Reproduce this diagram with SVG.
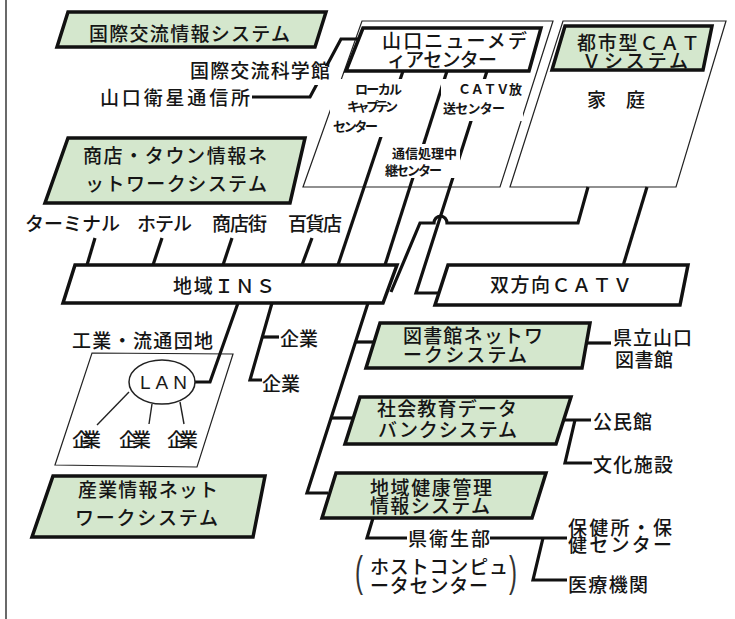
<svg xmlns="http://www.w3.org/2000/svg" width="735" height="619" viewBox="0 0 735 619">
<style>
.box{stroke:#111;stroke-width:3.5;stroke-linejoin:miter}
.g{fill:#d4e7cd}
.w{fill:#fff}
.panel{fill:#fff;stroke:#222;stroke-width:1.2}
.c{fill:none;stroke:#111;stroke-width:3.2;stroke-linejoin:miter}
.thin{fill:none;stroke:#222;stroke-width:1.4}
.t{font-family:"Noto Sans CJK JP","Noto Sans",sans-serif;fill:#151515;font-size:19px;font-weight:500}
.s{font-size:13px;font-weight:bold}
.ko{fill:#fff}
.par{font-family:"Liberation Sans",sans-serif;fill:#333;font-size:24px}
</style>
<rect x="0" y="0" width="735" height="619" fill="#fff"/>
<line x1="6" y1="0" x2="6" y2="619" stroke="#444" stroke-width="1.6"/>

<g id="panels">
  <polygon class="panel" points="362,21 553,21 500,187 303,187"/>
  <polygon class="panel" points="563,21 726,21 676,187 510,187"/>
  <polygon class="panel" points="92,353 233,354 197,467 55,465" fill="none"/>
</g>

<g id="connectors">
  <path class="c" d="M252,97 H310 L341,39 H359"/>
  <path class="c" d="M403,71 L338,265"/>
  <path class="c" d="M447,71 L385,265"/>
  <path class="c" d="M487,71 L416,293 H440"/>
  <path class="c" d="M588,187 L578,223 H447 A6.5,7 0 0 0 434,223 H420 L391,292"/>
  <path class="c" d="M647,187 L623,266"/>
  <path class="c" d="M95,238 L87,265"/>
  <path class="c" d="M162,238 L153,265"/>
  <path class="c" d="M232,238 L223,265"/>
  <path class="c" d="M312,238 L302,265"/>
  <path class="c" d="M238,303 L210,382 H194"/>
  <path class="c" d="M272,303 L250,380 H262"/>
  <path class="c" d="M262,337 H279"/>
  <path class="c" d="M368,303 L307,493 H328"/>
  <path class="c" d="M356,342 H377"/>
  <path class="c" d="M331,418 H354"/>
  <path class="c" d="M583,343 H611"/>
  <path class="c" d="M552,420 H591"/>
  <path class="c" d="M575,420 L565,463 H592"/>
  <path class="c" d="M373,518 L367,538 H407"/>
  <path class="c" d="M490,538 H567"/>
  <path class="c" d="M543,538 L533,580 H567"/>
  <path class="thin" d="M129,392 L97,425"/>
  <path class="thin" d="M152,404 L149,424"/>
  <path class="thin" d="M180,402 L184,424"/>
</g>

<g id="knockouts">
  <rect class="ko" x="330" y="79" width="75" height="58"/>
  <rect class="ko" x="441" y="79" width="82" height="42"/>
  <rect class="ko" x="384" y="144" width="76" height="34"/>
  <rect class="ko" x="186" y="66" width="147" height="19"/>
</g>

<g id="kokusai-system">
  <polygon class="box g" points="68,12 326,12 315,47 57,47"/>
  <text class="t" x="89" y="41" font-size="20" textLength="201">国際交流情報システム</text>
</g>
<g id="kagakukan">
  <text class="t" x="190" y="78" font-size="20" textLength="140">国際交流科学館</text>
</g>
<g id="eisei">
  <text class="t" x="100" y="105" font-size="20" textLength="150">山口衛星通信所</text>
</g>
<g id="media-center">
  <polygon class="box w" points="363,28 541,28 529,71 346,71"/>
  <text class="t" x="382" y="48" font-size="17" textLength="145">山口ニューメデ</text>
  <text class="t" x="387" y="66.5" font-size="17" textLength="110">ィアセンター</text>
</g>
<g id="local-captain">
  <text class="t s" x="355" y="94" textLength="47">ローカル</text>
  <text class="t s" x="347" y="111" textLength="51">キャプテン</text>
  <text class="t s" x="333" y="131" textLength="45">センター</text>
</g>
<g id="catv-hoso">
  <text class="t s" x="458" y="94" textLength="64">ＣＡＴＶ放</text>
  <text class="t s" x="443" y="112.5" textLength="62">送センター</text>
</g>
<g id="tsushin">
  <text class="t s" x="392" y="157.5" textLength="65">通信処理中</text>
  <text class="t s" x="385" y="175" textLength="57">継センター</text>
</g>
<g id="toshi-catv">
  <polygon class="box g" points="565,26 712,26 703,70 552,70"/>
  <text class="t" x="577" y="49.5" font-size="17" textLength="123">都市型ＣＡＴ</text>
  <text class="t" x="582" y="67.5" font-size="17" textLength="106">Ｖシステム</text>
</g>
<g id="katei">
  <text class="t" x="587" y="107" font-size="18" textLength="58">家　庭</text>
</g>
<g id="shoten-system">
  <polygon class="box g" points="68,138 305,138 290,203 45,203"/>
  <text class="t" x="83" y="163" font-size="20" textLength="184">商店・タウン情報ネ</text>
  <text class="t" x="85" y="191" font-size="20" textLength="182">ットワークシステム</text>
</g>
<g id="terminals">
  <text class="t" x="25" y="231" textLength="95">ターミナル</text>
  <text class="t" x="137" y="231" textLength="55">ホテル</text>
  <text class="t" x="212" y="231" textLength="55">商店街</text>
  <text class="t" x="288" y="231" textLength="54">百貨店</text>
</g>
<g id="ins">
  <polygon class="box w" points="75,265 397,265 383,303 63,303"/>
  <text class="t" x="173" y="292.5" textLength="102">地域ＩＮＳ</text>
</g>
<g id="catv-sohoko">
  <polygon class="box w" points="448,265 688,265 680,305 435,305"/>
  <text class="t" x="490" y="292" font-size="18" textLength="142">双方向ＣＡＴＶ</text>
</g>
<g id="kogyo">
  <text class="t" x="72" y="347.5" textLength="141">工業・流通団地</text>
  <ellipse cx="162" cy="382" rx="33" ry="22" fill="#fff" stroke="#222" stroke-width="1.5"/>
  <text x="140" y="389" font-family="Liberation Sans, Arial, sans-serif" font-size="19" fill="#1a1a1a" textLength="47">LAN</text>
  <text class="t" x="72" y="447" font-size="16" textLength="29">企業</text>
  <text class="t" x="119" y="447" font-size="16" textLength="32">企業</text>
  <text class="t" x="167" y="447" font-size="16" textLength="31">企業</text>
</g>
<g id="kigyo">
  <text class="t" x="280" y="346" textLength="38">企業</text>
  <text class="t" x="262" y="391" textLength="38">企業</text>
</g>
<g id="sangyo-system">
  <polygon class="box g" points="53,476 265,476 253,537 32,537"/>
  <text class="t" x="78" y="497" textLength="140">産業情報ネット</text>
  <text class="t" x="75" y="525" textLength="143">ワークシステム</text>
</g>
<g id="library-system">
  <polygon class="box g" points="380,323 590,323 582,368 366,368"/>
  <text class="t" x="403" y="343" font-size="17" textLength="140">図書館ネットワ</text>
  <text class="t" x="403" y="362" font-size="17" textLength="124">ークシステム</text>
</g>
<g id="kenritsu-library">
  <text class="t" x="613" y="345" textLength="79">県立山口</text>
  <text class="t" x="615" y="367" textLength="58">図書館</text>
</g>
<g id="shakai-system">
  <polygon class="box g" points="360,397 571,397 556,444 345,444"/>
  <text class="t" x="377" y="416" font-size="17.5" textLength="140">社会教育データ</text>
  <text class="t" x="378" y="436.5" font-size="17.5" textLength="139">バンクシステム</text>
</g>
<g id="kominkan">
  <text class="t" x="593" y="429" textLength="59">公民館</text>
</g>
<g id="bunka">
  <text class="t" x="593" y="472" textLength="80">文化施設</text>
</g>
<g id="kenko-system">
  <polygon class="box g" points="336,473 546,473 532,518 322,518"/>
  <text class="t" x="370" y="494.5" font-size="17" textLength="122">地域健康管理</text>
  <text class="t" x="370" y="513" font-size="17" textLength="120">情報システム</text>
</g>
<g id="eiseibu">
  <text class="t" x="408" y="546" font-size="20" textLength="82">県衛生部</text>
  <text class="par" transform="translate(355,586) scale(1,1.75)">(</text>
  <text class="t" x="370" y="574" font-size="18" textLength="138">ホストコンピュ</text>
  <text class="t" x="370" y="593" font-size="18" textLength="118">ータセンター</text>
  <text class="par" transform="translate(509,586) scale(1,1.75)">)</text>
</g>
<g id="hokenjo">
  <text class="t" x="568" y="535" font-size="17.5" textLength="104">保健所・保</text>
  <text class="t" x="568" y="552" font-size="17.5" textLength="104">健センター</text>
</g>
<g id="iryo">
  <text class="t" x="568" y="592" textLength="80">医療機関</text>
</g>
</svg>
